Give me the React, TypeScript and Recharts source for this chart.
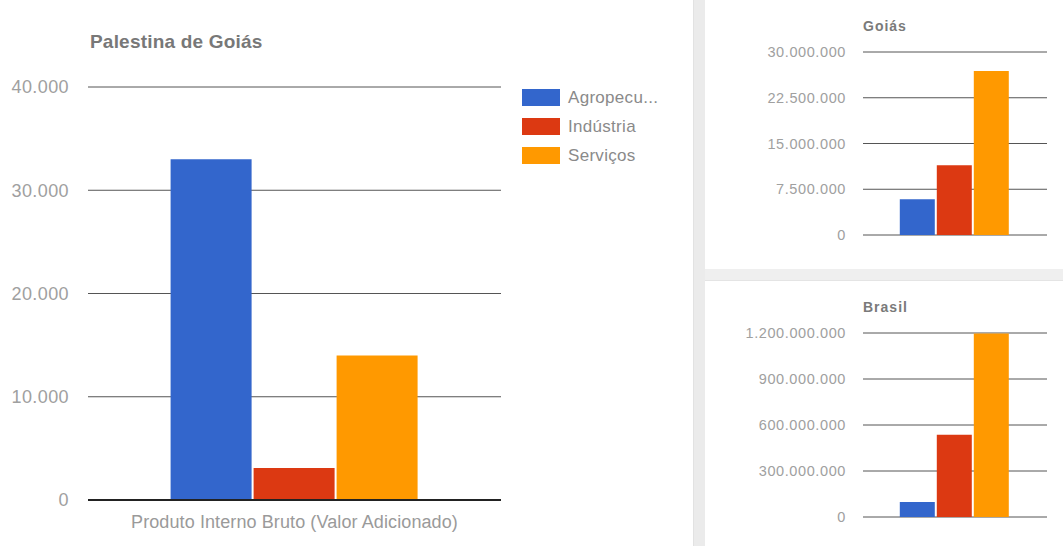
import React from "react";
import { BarChart, Bar, XAxis, YAxis, CartesianGrid } from "recharts";

const categories = ["Produto Interno Bruto (Valor Adicionado)"];
const seriesKeys = ["agro", "ind", "serv"];
const seriesLabels = ["Agropecu...", "Indústria", "Serviços"];
const seriesColors = ["#3366CC", "#DC3912", "#FF9900"];

const palestinaValues = [33000, 3100, 14000];
const goiasValues = [5850000, 11450000, 26900000];
const brasilValues = [98000000, 537000000, 1197000000];

const palestinaTicks = [0, 10000, 20000, 30000, 40000];
const goiasTicks = [0, 7500000, 15000000, 22500000, 30000000];
const brasilTicks = [0, 300000000, 600000000, 900000000, 1200000000];

const FONT = "'Liberation Sans', Arial, sans-serif";

function buildData(values: number[]) {
  return categories.map((name) => {
    const row: Record<string, string | number> = { name };
    seriesKeys.forEach((k, i) => (row[k] = values[i]));
    return row;
  });
}

const fmt = (v: number) => String(Math.round(v)).replace(/\B(?=(\d{3})+(?!\d))/g, ".");

// category label on one line, no wrapping
function CategoryTick(props: any) {
  const { x, y, payload } = props;
  return (
    <text x={x} y={y} dy={26} textAnchor="middle" fill="#9a9a9a" fontSize={18} fontFamily={FONT} letterSpacing={0.1}>
      {payload.value}
    </text>
  );
}

function LegendBox() {
  return (
    <div style={{ position: "absolute", left: 522, top: 83, fontFamily: FONT }}>
      {seriesLabels.map((label, i) => (
        <div key={label} style={{ display: "flex", alignItems: "center", height: 29 }}>
          <div style={{ width: 38, height: 17, background: seriesColors[i], marginRight: 8 }} />
          <span style={{ fontSize: 17, color: "#8a8a8a", letterSpacing: 0.3 }}>{label}</span>
        </div>
      ))}
    </div>
  );
}

function SmallChart({ title, values, ticks, top }: { title: string; values: number[]; ticks: number[]; top: number }) {
  const data = buildData(values);
  return (
    <div style={{ position: "absolute", left: 705, top, width: 358, height: 265 }}>
      <div
        style={{
          position: "absolute",
          left: 158,
          top: 18,
          fontFamily: FONT,
          fontWeight: "bold",
          fontSize: 14,
          letterSpacing: 1,
          color: "#7a7a7a",
        }}
      >
        {title}
      </div>
      <BarChart
        width={358}
        height={top === 0 ? 269 : 265}
        data={data}
        margin={{ top: 52, right: 16, bottom: top === 0 ? 34 : 29, left: 0 }}
        barCategoryGap="20%"
        barGap={2}
      >
        <CartesianGrid vertical={false} stroke="#555" />
        <XAxis dataKey="name" tick={false} height={0} axisLine={{ stroke: "#222", strokeWidth: 2 }} tickLine={false} />
        <YAxis
          width={158}
          domain={[0, ticks[ticks.length - 1]]}
          ticks={ticks}
          tickFormatter={fmt}
          axisLine={false}
          tickLine={false}
          tickSize={0}
          tickMargin={17}
          tick={{ fill: "#a0a0a0", fontSize: 14.5, fontFamily: FONT, letterSpacing: 0.6 }}
        />
        {seriesKeys.map((k, i) => (
          <Bar key={k} dataKey={k} fill={seriesColors[i]} isAnimationActive={false} />
        ))}
      </BarChart>
    </div>
  );
}

export default function App() {
  const mainData = buildData(palestinaValues);
  return (
    <div style={{ position: "absolute", left: 0, top: 0, width: 1063, height: 546, background: "#fff", overflow: "hidden" }}>
      <div
        style={{
          position: "absolute",
          left: 90,
          top: 31,
          fontFamily: FONT,
          fontWeight: "bold",
          fontSize: 19,
          letterSpacing: 0.2,
          color: "#787878",
        }}
      >
        Palestina de Goiás
      </div>
      <div style={{ position: "absolute", left: 0, top: 0 }}>
        <BarChart
          width={690}
          height={546}
          data={mainData}
          margin={{ top: 87, right: 189, bottom: 16, left: 0 }}
          barCategoryGap="20%"
          barGap={2}
        >
          <CartesianGrid vertical={false} stroke="#555" />
          <XAxis
            dataKey="name"
            height={30}
            axisLine={{ stroke: "#222", strokeWidth: 2 }}
            tickLine={false}
            tickSize={0}
            tick={<CategoryTick />}
          />
          <YAxis
            width={88}
            domain={[0, 40000]}
            ticks={palestinaTicks}
            tickFormatter={fmt}
            axisLine={false}
            tickLine={false}
            tickSize={0}
            tickMargin={19}
            tick={{ fill: "#a0a0a0", fontSize: 18, fontFamily: FONT, letterSpacing: 0.4 }}
          />
          {seriesKeys.map((k, i) => (
            <Bar key={k} dataKey={k} name={seriesLabels[i]} fill={seriesColors[i]} isAnimationActive={false} />
          ))}
        </BarChart>
      </div>
      <LegendBox />
      <div style={{ position: "absolute", left: 693, top: 0, width: 12, height: 546, background: "#ebebeb", borderLeft: "1px solid #e2e2e2", boxSizing: "border-box" }} />
      <div style={{ position: "absolute", left: 705, top: 269, width: 358, height: 12, background: "#efefef", borderBottom: "1px solid #e4e4e4", boxSizing: "border-box" }} />
      <SmallChart title="Goiás" values={goiasValues} ticks={goiasTicks} top={0} />
      <SmallChart title="Brasil" values={brasilValues} ticks={brasilTicks} top={281} />
    </div>
  );
}
